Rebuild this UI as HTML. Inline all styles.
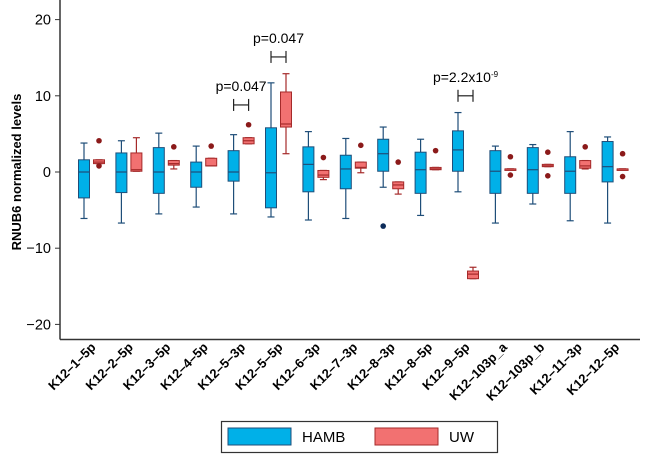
<!DOCTYPE html>
<html><head><meta charset="utf-8"><style>
body{margin:0;background:#fff}
svg{display:block;font-family:"Liberation Sans",Arial,sans-serif}
</style></head><body>
<svg id="chart" width="650" height="457" viewBox="0 0 650 457" xmlns="http://www.w3.org/2000/svg"></svg>
<script>
const categories=["K12–1–5p","K12–2–5p","K12–3–5p","K12–4–5p","K12–5–3p","K12–5–5p","K12–6–3p","K12–7–3p","K12–8–3p","K12–8–5p","K12–9–5p","K12–103p_a","K12–103p_b","K12–11–3p","K12–12–5p"];
// [low, q1, median, q3, high]
const hambStats=[[-6.1,-3.4,0,1.6,3.8],[-6.7,-2.7,0,2.5,4.1],[-5.5,-2.8,0,3.2,5.1],[-4.6,-2.0,0,1.3,3.4],[-5.5,-1.2,0,2.8,4.9],[-5.9,-4.7,-0.1,5.8,11.7],[-6.3,-2.6,1.0,3.3,5.3],[-6.1,-2.2,0.4,2.2,4.4],[-2.0,0.1,2.4,4.3,5.9],[-5.7,-2.8,0.3,2.6,4.3],[-2.6,0.1,2.9,5.4,7.8],[-6.7,-2.8,0.1,2.8,3.4],[-4.2,-2.8,0.3,3.2,3.6],[-6.4,-2.8,0.1,2.0,5.3],[-6.7,-1.3,0.7,4.0,4.6]];
const uwStats=[[1.1,1.1,1.3,1.6,1.6],[0.1,0.1,0.3,2.5,4.5],[0.4,0.9,1.1,1.5,1.5],[0.8,0.8,0.8,1.8,1.8],[3.7,3.7,4.1,4.5,4.5],[2.4,5.9,6.3,10.5,12.9],[-1.0,-0.7,-0.4,0.2,0.2],[-0.1,0.5,0.6,1.3,1.3],[-2.9,-2.2,-1.7,-1.3,-1.3],[0.3,0.3,0.4,0.6,0.6],[-14.0,-14.0,-13.4,-13.0,-12.5],[0.4,0.4,0.4,0.4,0.4],[0.7,0.7,0.8,1.0,1.0],[0.4,0.5,0.8,1.5,1.5],[0.4,0.4,0.4,0.4,0.4]];
const hambOutliers=[[],[],[],[],[],[],[],[],[-7.1],[],[],[],[],[],[]];
const uwOutliers=[[4.1,0.8],[],[3.3],[3.4],[6.2],[],[1.9],[3.5],[1.3],[2.8],[],[2.0,-0.4],[2.6,-0.5],[3.3],[2.4,-0.6]];
const yTicks=[20,10,0,-10,-20];
const pvals=[{i:4,level:8.8,label:"p=0.047"},{i:5,level:15.1,label:"p=0.047"},{i:10,level:10.0,label:"p=2.2x10",sup:"-9"}];

const NS="http://www.w3.org/2000/svg";
const svg=document.getElementById('chart');
function y(v){return 172-v*7.62;}
function xc(i){return 91.5+i*37.4;}
function mk(t,a,p){const e=document.createElementNS(NS,t);for(const k in a)e.setAttribute(k,a[k]);(p||svg).appendChild(e);return e;}

const ax=mk('g',{});


mk('line',{x1:60,y1:0,x2:60,y2:339.5,stroke:'#333','stroke-width':1.5},ax);
mk('line',{x1:60,y1:339.5,x2:640,y2:339.5,stroke:'#333','stroke-width':1.5},ax);
yTicks.forEach(t=>{
  mk('line',{x1:55,y1:y(t),x2:60,y2:y(t),stroke:'#333','stroke-width':1},ax);
  const tx=mk('text',{x:51,y:y(t)+5,'text-anchor':'end','font-size':14.5},ax);
  tx.textContent=t<0?'−'+(-t):t;
  
  
});
const yt=mk('text',{x:0,y:0,transform:'translate(21,172) rotate(-90)','text-anchor':'middle','font-size':13,'font-weight':'bold'});
yt.textContent='RNUB6 normalized levels';



function drawBox(s,cx,fill,stroke,name){
  const g=mk('g',{});
  
  
  const w=11;
  mk('line',{x1:cx,y1:y(s[4]),x2:cx,y2:y(s[3]),stroke:stroke,'stroke-width':1.2},g);
  mk('line',{x1:cx,y1:y(s[1]),x2:cx,y2:y(s[0]),stroke:stroke,'stroke-width':1.2},g);
  mk('line',{x1:cx-3.5,y1:y(s[4]),x2:cx+3.5,y2:y(s[4]),stroke:stroke,'stroke-width':1.2},g);
  mk('line',{x1:cx-3.5,y1:y(s[0]),x2:cx+3.5,y2:y(s[0]),stroke:stroke,'stroke-width':1.2},g);
  const h=Math.max(y(s[1])-y(s[3]),1.5);
  mk('rect',{x:cx-w/2,y:y(s[3]),width:w,height:h,fill:fill,stroke:stroke,'stroke-width':1},g);
  mk('line',{x1:cx-w/2,y1:y(s[2]),x2:cx+w/2,y2:y(s[2]),stroke:stroke,'stroke-width':1.2},g);
}
categories.forEach((c,i)=>{
  drawBox(hambStats[i],xc(i)-7.5,'#00b0e8','#1f4e79','hamb-box-'+i);
  drawBox(uwStats[i],xc(i)+7.5,'#f27171','#a52a2a','uw-box-'+i);
  hambOutliers[i].forEach(v=>{const o=mk('circle',{cx:xc(i)-7.5,cy:y(v),r:2.8,fill:'#0d2c5a'});
    });
  uwOutliers[i].forEach(v=>{const o=mk('circle',{cx:xc(i)+7.5,cy:y(v),r:2.8,fill:'#8b1a1a'});
    });
  const lx=xc(i)+5, ly=348;
  const t=mk('text',{x:0,y:0,transform:`translate(${lx},${ly}) rotate(-45)`,'text-anchor':'end','font-size':13,'font-weight':'bold'});
  t.textContent=c;
  
  
});
pvals.forEach(p=>{
  const g=mk('g',{});
  
  
  const by=y(p.level), x1=xc(p.i)-7.5,x2=xc(p.i)+7.5;
  mk('line',{x1:x1,y1:by,x2:x2,y2:by,stroke:'#222','stroke-width':1.2},g);
  mk('line',{x1:x1,y1:by-6,x2:x1,y2:by+6,stroke:'#222','stroke-width':1.2},g);
  mk('line',{x1:x2,y1:by-6,x2:x2,y2:by+6,stroke:'#222','stroke-width':1.2},g);
  const t=mk('text',{x:xc(p.i),y:by-14,'text-anchor':'middle','font-size':14},g);
  t.textContent=p.label;
  if(p.sup){const s=mk('tspan',{dy:-5,'font-size':8},t);s.textContent=p.sup;}
});
const lg=mk('g',{});


mk('rect',{x:221.5,y:421.5,width:276,height:31,fill:'#fff',stroke:'#333','stroke-width':1.2},lg);
mk('rect',{x:228,y:428,width:63,height:17,fill:'#00b0e8',stroke:'#1f4e79'},lg);
const t1=mk('text',{x:302,y:442,'font-size':15},lg);t1.textContent='HAMB';
mk('rect',{x:375,y:428,width:63,height:17,fill:'#f27171',stroke:'#a52a2a'},lg);
const t2=mk('text',{x:449,y:442,'font-size':15},lg);t2.textContent='UW';
</script>
</body></html>
